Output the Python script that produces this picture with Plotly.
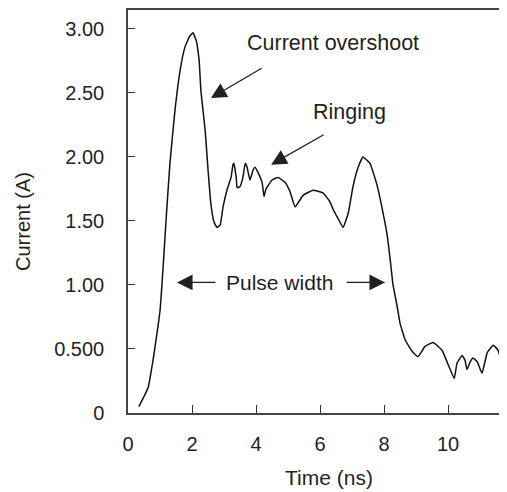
import plotly.graph_objects as go

# Time (ns) and current (A)
time_ns = [0.34, 0.63, 0.78, 0.91, 1.00, 1.06, 1.13, 1.19, 1.31, 1.47, 1.63, 1.78, 1.92, 2.03,
           2.13, 2.22, 2.28, 2.41, 2.50, 2.59, 2.69, 2.78, 2.88, 2.97, 3.09, 3.22, 3.28, 3.31,
           3.38, 3.41, 3.50, 3.59, 3.66, 3.72, 3.81, 3.91, 3.97, 4.06, 4.19, 4.25, 4.31, 4.50,
           4.69, 4.91, 5.06, 5.22, 5.47, 5.78, 6.09, 6.31, 6.41, 6.56, 6.72, 6.88, 7.03, 7.19,
           7.34, 7.56, 7.78, 7.97, 8.09, 8.19, 8.28, 8.41, 8.50, 8.66, 8.88, 9.06, 9.28, 9.53,
           9.81, 10.00, 10.19, 10.28, 10.44, 10.53, 10.59, 10.69, 10.78, 10.91, 11.06, 11.22,
           11.41, 11.56, 11.72, 11.84]
current_a = [0.05, 0.20, 0.41, 0.63, 0.80, 1.00, 1.27, 1.51, 1.95, 2.37, 2.68, 2.86, 2.94, 2.97,
             2.91, 2.76, 2.51, 2.21, 1.90, 1.63, 1.49, 1.45, 1.47, 1.61, 1.74, 1.84, 1.94, 1.95,
             1.84, 1.76, 1.77, 1.84, 1.95, 1.92, 1.82, 1.90, 1.92, 1.88, 1.80, 1.69, 1.75, 1.82,
             1.84, 1.80, 1.73, 1.61, 1.70, 1.74, 1.72, 1.65, 1.59, 1.52, 1.45, 1.56, 1.77, 1.92,
             2.00, 1.95, 1.78, 1.56, 1.40, 1.20, 1.00, 0.83, 0.70, 0.57, 0.48, 0.44, 0.52, 0.55,
             0.49, 0.38, 0.27, 0.39, 0.45, 0.41, 0.34, 0.40, 0.43, 0.40, 0.31, 0.47,
             0.53, 0.49, 0.34, 0.18]

x_ticks = [0, 2, 4, 6, 8, 10]
y_ticks = [0, 0.5, 1.0, 1.5, 2.0, 2.5, 3.0]
y_tick_labels = ["0", "0.500", "1.00", "1.50", "2.00", "2.50", "3.00"]

FONT = "Liberation Sans, Arial, Helvetica, sans-serif"
TXT = "#231f20"

fig = go.Figure()
fig.add_trace(go.Scatter(x=time_ns, y=current_a, mode="lines",
                         line=dict(color="#111111", width=1.5, shape="spline", smoothing=0.35),
                         hoverinfo="skip", showlegend=False))

ann = []
# text labels
ann.append(dict(x=6.41, y=2.89, xref="x", yref="y", text="Current overshoot", showarrow=False,
                font=dict(size=21.5, color=TXT, family=FONT)))
ann.append(dict(x=6.91, y=2.35, xref="x", yref="y", text="Ringing", showarrow=False,
                font=dict(size=21.5, color=TXT, family=FONT)))
ann.append(dict(x=4.72, y=1.02, xref="x", yref="y", text="Pulse width", showarrow=False,
                font=dict(size=21, color=TXT, family=FONT)))
# arrows (tip at x,y; tail at ax,ay)
arrows = [((2.59, 2.46), (4.22, 2.70)),
          ((4.47, 1.94), (6.16, 2.18)),
          ((1.53, 1.02), (2.78, 1.02)),
          ((8.03, 1.02), (6.78, 1.02))]
for (tx, ty), (sx, sy) in arrows:
    ann.append(dict(x=tx, y=ty, xref="x", yref="y", ax=sx, ay=sy, axref="x", ayref="y",
                    text="", showarrow=True, arrowhead=2, arrowsize=2.4, arrowwidth=1.3,
                    arrowcolor=TXT))
# axis titles
ann.append(dict(x=0.530, y=-0.159, xref="paper", yref="paper", text="Time (ns)", showarrow=False,
                font=dict(size=21, color=TXT, family=FONT), xanchor="center", yanchor="middle"))
ann.append(dict(x=-0.277, y=0.474, xref="paper", yref="paper", text="Current (A)", showarrow=False,
                textangle=-90, font=dict(size=20, color=TXT, family=FONT),
                xanchor="center", yanchor="middle"))

# page body has an 8px margin, so the figure is sized/offset to compensate
fig.update_layout(
    width=499, height=484,
    margin=dict(l=120, r=0, t=2, b=79),
    paper_bgcolor="white", plot_bgcolor="white",
    font=dict(family=FONT, size=20, color=TXT),
    annotations=ann,
    xaxis=dict(range=[0, 11.84], tickvals=x_ticks, ticks="inside", ticklen=8, tickwidth=1.3,
               tickcolor="#333333", showline=True, linecolor="#444444", linewidth=1.5,
               mirror=True, showgrid=False, zeroline=False, ticklabelstandoff=12,
               tickfont=dict(size=20, color=TXT, family=FONT)),
    yaxis=dict(range=[0, 3.148], tickvals=y_ticks, ticktext=y_tick_labels, ticks="inside",
               ticklen=7, tickwidth=1.3, tickcolor="#333333", showline=True,
               linecolor="#444444", linewidth=1.5, mirror=False, showgrid=False,
               zeroline=False, ticklabelstandoff=18,
               tickfont=dict(size=20, color=TXT, family=FONT)),
)

fig.write_html("out.html")
